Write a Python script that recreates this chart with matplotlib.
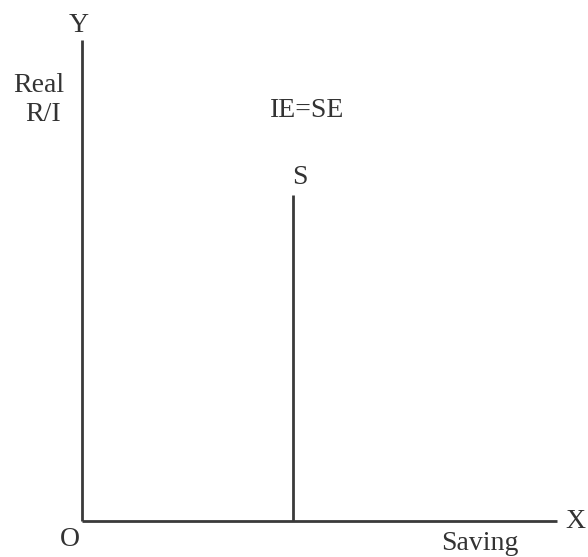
import matplotlib.pyplot as plt

# chart data (axis units: 0-10 each way)
x_axis_end = 10.0
y_axis_end = 10.0
saving_level = 4.44   # vertical S line position
s_top = 6.78          # height of the S line

plt.rcParams['font.family'] = ['Liberation Serif', 'DejaVu Serif']

fig = plt.figure(figsize=(5.88, 5.57), dpi=100)
ax = fig.add_axes([82 / 588, 36 / 557, 475 / 588, 481 / 557])
ax.set_xlim(0, x_axis_end)
ax.set_ylim(0, y_axis_end)
ax.axis('off')

lc = '#3a3a3a'
ax.plot([0, x_axis_end], [0, 0], color=lc, lw=2, clip_on=False, solid_capstyle='butt')
ax.plot([0, 0], [0, y_axis_end], color=lc, lw=2, clip_on=False, solid_capstyle='butt')
ax.plot([saving_level, saving_level], [0, s_top], color=lc, lw=2, clip_on=False, solid_capstyle='butt')

tc = '#333333'
fs = 20
kw = dict(ha='center', va='baseline', fontsize=fs, color=tc)
ax.text(-0.08, 10.17, 'Y', **kw)
ax.text(10.38, -0.15, 'X', **kw)
ax.text(-0.25, -0.52, 'O', **kw)
ax.text(8.38, -0.6, 'Saving', **kw)
ax.text(-0.9, 8.92, 'Real', **kw)
ax.text(-0.82, 8.32, 'R/I', **kw)
ax.text(4.74, 8.4, 'IE=SE', **kw)
ax.text(4.59, 7.01, 'S', **kw)

fig.savefig('out.png', dpi=100)
